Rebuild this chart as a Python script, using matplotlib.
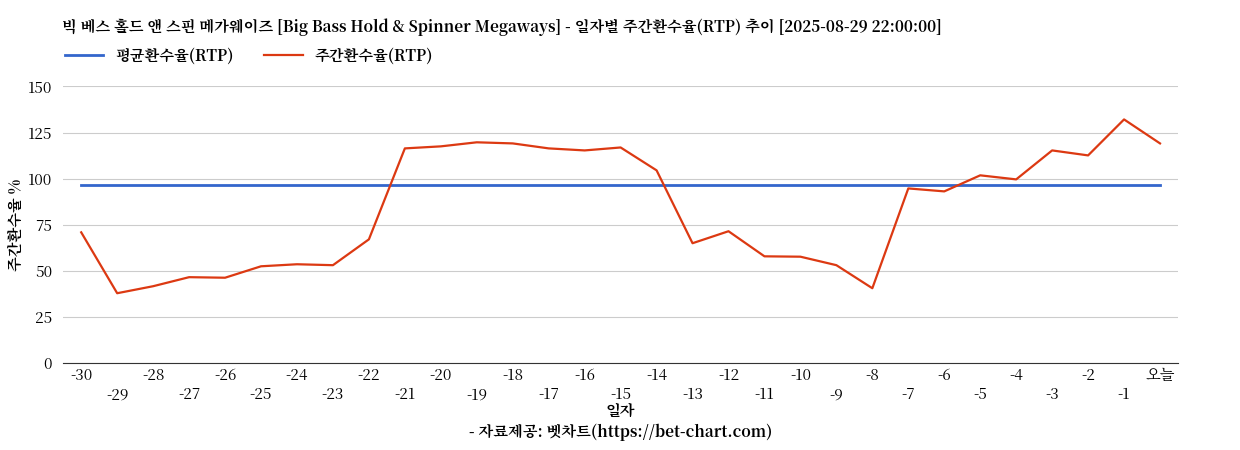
import matplotlib
matplotlib.use("Agg")
import matplotlib.pyplot as plt
from matplotlib import font_manager as fm

cjk = [f.name for f in fm.fontManager.ttflist if "CJK" in f.name]
pref = [n for n in cjk if "KR" in n] or cjk
plt.rcParams["font.family"] = (pref[:1] if pref else []) + ["DejaVu Sans"]

labels = [str(i) for i in range(-30, 0)] + ["오늘"]
rtp = [70.9, 37.9, 41.7, 46.6, 46.3, 52.5, 53.6, 53.1, 67.1, 116.4, 117.5, 119.7, 119.1,
       116.4, 115.3, 116.9, 104.5, 65.0, 71.5, 57.9, 57.7, 53.1, 40.6, 94.7, 93.1, 101.8,
       99.6, 115.3, 112.6, 132.1, 119.1]
avg = [96.4] * len(labels)

fig = plt.figure(figsize=(12.4, 4.5), dpi=100)
ax = fig.add_axes([0.051, 0.193, 0.899, 0.615])
x = list(range(len(labels)))
ax.plot(x, avg, color="#3366cc", lw=2, label="평균환수율(RTP)")
ax.plot(x, rtp, color="#dc3912", lw=1.6, label="주간환수율(RTP)")
ax.set_xlim(-0.5, len(labels) - 0.5)
ax.set_ylim(0, 150)
ax.set_yticks(range(0, 151, 25))
ax.grid(axis="y", color="#cccccc", lw=0.8)
ax.set_axisbelow(True)
for s in ["top", "right", "left"]:
    ax.spines[s].set_visible(False)
ax.spines["bottom"].set_color("#333333")
ax.tick_params(axis="y", length=0, labelsize=11, pad=8)
ax.tick_params(axis="x", length=0, labelsize=11)
ax.set_xticks(x)
ax.set_xticklabels([l if i % 2 == 0 else "\n" + l for i, l in enumerate(labels)])
ax.set_ylabel("주간환수율 %", fontsize=11, fontweight="bold", labelpad=2)
ax.set_xlabel("일자\n- 자료제공: 벳차트(https://bet-chart.com)", fontsize=11, fontweight="bold", labelpad=0)
fig.text(0.05, 0.93, "빅 베스 홀드 앤 스핀 메가웨이즈 [Big Bass Hold & Spinner Megaways] - 일자별 주간환수율(RTP) 추이 [2025-08-29 22:00:00]",
         fontsize=11, fontweight="bold")
fig.legend(loc="upper left", bbox_to_anchor=(0.045, 0.915), ncol=2, frameon=False,
           prop={"size": 11, "weight": "bold"}, handlelength=2.5, borderaxespad=0.2)
fig.savefig("out.png")
